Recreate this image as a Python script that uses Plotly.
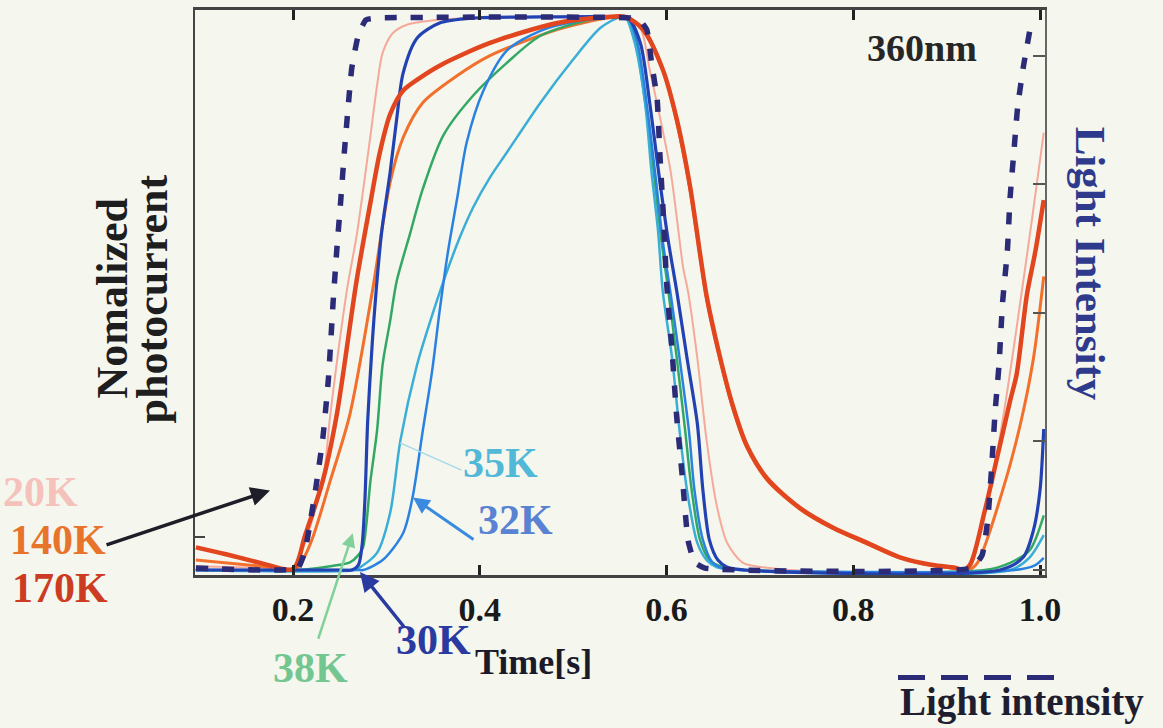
import plotly.graph_objects as go

# ---- photocurrent transients (normalized) vs time [s] ----
t_20K = [0.096, 0.165, 0.197, 0.203, 0.211, 0.232, 0.240, 0.258, 0.268, 0.283, 0.290, 0.296, 0.307, 0.322,
         0.357, 0.443, 0.536, 0.556, 0.572, 0.582, 0.604, 0.618, 0.623, 0.633, 0.643, 0.654, 0.665, 0.682,
         0.708, 0.732, 0.918, 0.930, 0.950, 0.965, 0.979, 0.991, 1.004]
i_20K = [0.007, 0.004, 0.002, 0.009, 0.041, 0.162, 0.282, 0.509, 0.603, 0.786, 0.876, 0.935, 0.971, 0.986,
         0.995, 1.0, 1.0, 1.0, 0.980, 0.905, 0.725, 0.545, 0.504, 0.383, 0.234, 0.115, 0.049, 0.013,
         0.004, 0.0, 0.0, 0.036, 0.174, 0.324, 0.486, 0.629, 0.791]

t_140K = [0.096, 0.165, 0.203, 0.218, 0.240, 0.261, 0.285, 0.304, 0.318, 0.339, 0.376, 0.411, 0.483, 0.536,
          0.556, 0.575, 0.596, 0.611, 0.625, 0.643, 0.657, 0.671, 0.686, 0.708, 0.743, 0.778, 0.815, 0.850,
          0.885, 0.909, 0.923, 0.933, 0.960, 0.979, 0.993, 1.004]
i_140K = [0.018, 0.007, 0.002, 0.045, 0.162, 0.282, 0.504, 0.701, 0.782, 0.845, 0.894, 0.930, 0.977, 0.998,
          1.0, 0.980, 0.905, 0.810, 0.690, 0.490, 0.383, 0.293, 0.222, 0.162, 0.110, 0.075, 0.047, 0.022,
          0.008, 0.003, 0.0, 0.013, 0.144, 0.264, 0.383, 0.531]

t_170K = [0.096, 0.127, 0.165, 0.200, 0.213, 0.232, 0.247, 0.268, 0.283, 0.293, 0.304, 0.318, 0.336, 0.357,
          0.411, 0.483, 0.536, 0.556, 0.575, 0.596, 0.611, 0.625, 0.643, 0.657, 0.671, 0.686, 0.708, 0.743,
          0.778, 0.815, 0.850, 0.885, 0.909, 0.917, 0.925, 0.941, 0.954, 0.968, 0.975, 0.986, 0.995, 1.004]
i_170K = [0.041, 0.029, 0.013, 0.002, 0.063, 0.162, 0.282, 0.522, 0.665, 0.755, 0.824, 0.867, 0.890, 0.912,
          0.953, 0.989, 1.0, 1.0, 0.977, 0.905, 0.815, 0.696, 0.495, 0.387, 0.297, 0.225, 0.165, 0.112,
          0.077, 0.049, 0.023, 0.009, 0.004, 0.0, 0.009, 0.108, 0.203, 0.306, 0.354, 0.498, 0.576, 0.669]

t_30K = [0.096, 0.250, 0.263, 0.270, 0.274, 0.277, 0.280, 0.285, 0.289, 0.295, 0.304, 0.311, 0.318, 0.333,
         0.357, 0.393, 0.465, 0.547, 0.559, 0.572, 0.582, 0.593, 0.602, 0.611, 0.622, 0.633, 0.639, 0.646,
         0.655, 0.665, 0.684, 0.957, 0.982, 0.993, 1.000, 1.004]
i_30K = [0.0, 0.0, 0.0, 0.009, 0.045, 0.126, 0.270, 0.414, 0.504, 0.612, 0.719, 0.815, 0.899, 0.962,
         0.989, 0.998, 1.0, 1.0, 0.998, 0.953, 0.845, 0.701, 0.594, 0.504, 0.383, 0.265, 0.144, 0.054,
         0.018, 0.005, 0.0, 0.0, 0.023, 0.072, 0.144, 0.255]

t_32K = [0.096, 0.270, 0.275, 0.296, 0.318, 0.328, 0.339, 0.349, 0.357, 0.366, 0.376, 0.386, 0.404, 0.429,
         0.465, 0.507, 0.550, 0.559, 0.569, 0.580, 0.589, 0.596, 0.604, 0.614, 0.624, 0.630, 0.639, 0.649,
         0.659, 0.679, 0.973, 0.995, 1.004]
i_32K = [0.0, 0.0, 0.0, 0.018, 0.067, 0.131, 0.252, 0.360, 0.468, 0.576, 0.674, 0.773, 0.867, 0.939,
         0.975, 0.993, 1.0, 0.998, 0.953, 0.827, 0.701, 0.594, 0.504, 0.383, 0.252, 0.144, 0.054, 0.014,
         0.004, 0.0, 0.0, 0.009, 0.022]

t_35K = [0.096, 0.266, 0.272, 0.290, 0.304, 0.315, 0.333, 0.347, 0.363, 0.379, 0.393, 0.411, 0.429, 0.465,
         0.500, 0.529, 0.550, 0.556, 0.566, 0.577, 0.584, 0.591, 0.596, 0.606, 0.614, 0.622, 0.633, 0.643,
         0.654, 0.679, 0.968, 0.989, 1.004]
i_35K = [0.0, 0.0, 0.005, 0.031, 0.103, 0.234, 0.372, 0.450, 0.531, 0.603, 0.656, 0.710, 0.755, 0.845,
         0.923, 0.980, 1.0, 1.0, 0.953, 0.845, 0.719, 0.612, 0.504, 0.383, 0.252, 0.144, 0.049, 0.018,
         0.005, 0.0, 0.0, 0.023, 0.063]

t_38K = [0.096, 0.207, 0.218, 0.240, 0.261, 0.270, 0.275, 0.283, 0.290, 0.296, 0.304, 0.311, 0.325, 0.339,
         0.361, 0.393, 0.429, 0.465, 0.518, 0.550, 0.557, 0.567, 0.578, 0.587, 0.594, 0.602, 0.611, 0.620,
         0.627, 0.636, 0.646, 0.663, 0.684, 0.941, 0.968, 0.989, 1.004]
i_38K = [0.0, 0.0, 0.002, 0.007, 0.014, 0.027, 0.041, 0.162, 0.252, 0.372, 0.450, 0.522, 0.606, 0.689,
         0.786, 0.858, 0.917, 0.966, 0.995, 1.0, 1.0, 0.953, 0.836, 0.710, 0.603, 0.504, 0.383, 0.252,
         0.144, 0.054, 0.018, 0.004, 0.0, 0.0, 0.013, 0.036, 0.099]

# ---- light intensity (arb. units, right axis) ----
t_light = [0.096, 0.205, 0.213, 0.224, 0.232, 0.238, 0.243, 0.247, 0.251, 0.255, 0.259, 0.263, 0.270, 0.278,
           0.293, 0.561, 0.572, 0.579, 0.584, 0.590, 0.593, 0.597, 0.600, 0.606, 0.611, 0.617, 0.623, 0.630,
           0.641, 0.927, 0.938, 0.944, 0.948, 0.952, 0.956, 0.960, 0.965, 0.968, 0.972, 0.976, 0.982, 0.989]
light = [0.015, 0.015, 0.155, 0.619, 1.029, 1.493, 2.089, 2.499, 2.863, 3.250, 3.598, 3.907, 4.162, 4.279,
         4.294, 4.294, 4.271, 4.201, 3.946, 3.660, 3.226, 2.708, 2.244, 1.702, 1.184, 0.720, 0.232, 0.062,
         0.015, 0.015, 0.116, 0.387, 0.774, 1.238, 1.586, 2.089, 2.476, 2.901, 3.250, 3.598, 3.907, 4.193]

x_ticks = [0.2, 0.4, 0.6, 0.8, 1.0]
x_tick_text = ["0.2", "0.4", "0.6", "0.8", "1.0"]
right_ticks = [0, 1, 2, 3, 4]

series = [
    ("20K", t_20K, i_20K, "#f5a99a", 2.0),
    ("140K", t_140K, i_140K, "#f2702c", 3.0),
    ("38K", t_38K, i_38K, "#33a864", 2.5),
    ("35K", t_35K, i_35K, "#3aaed6", 2.5),
    ("32K", t_32K, i_32K, "#2a82e0", 2.5),
    ("30K", t_30K, i_30K, "#2342b2", 3.2),
    ("170K", t_170K, i_170K, "#e2461e", 4.5),
]

SERIF = "Liberation Serif, Times New Roman, serif"
BG = "#f5f6ee"

fig = go.Figure()
for name, t, v, color, w in series:
    fig.add_trace(go.Scatter(x=t, y=v, mode="lines", name=name,
                             line=dict(color=color, width=w, shape="spline", smoothing=0.8),
                             showlegend=False))

fig.add_trace(go.Scatter(x=t_light, y=light, mode="lines", name="Light intensity", yaxis="y2",
                         line=dict(color="#2b2b78", width=5.5, dash="12px,14px", shape="spline", smoothing=0.4),
                         showlegend=False))

fig.update_layout(
    width=1163, height=728,
    margin=dict(l=195, r=118, t=7, b=153),
    paper_bgcolor=BG, plot_bgcolor=BG,
    font=dict(family=SERIF, color="#1a1a1a"),
    xaxis=dict(range=[0.09505, 1.00535], tickvals=x_ticks, ticktext=x_tick_text,
               ticks="inside", ticklen=10, tickwidth=3, tickcolor="#222",
               showline=True, linecolor="#444", linewidth=2.5, mirror="ticks",
               showgrid=False, zeroline=False,
               tickfont=dict(family=SERIF, size=34, color="#1a1a1a", weight="bold"),
               ticklabelstandoff=2),
    yaxis=dict(range=[-0.009, 1.0126], tickvals=[0.06], ticks="inside", ticklen=10, tickwidth=2,
               tickcolor="#444", showticklabels=False, showline=True, linecolor="#444",
               linewidth=2, showgrid=False, zeroline=False),
    yaxis2=dict(range=[-0.0387, 4.356], overlaying="y", side="right", tickvals=right_ticks,
                ticks="inside", ticklen=12, tickwidth=2, tickcolor="#555", showticklabels=False,
                showline=True, linecolor="#666", linewidth=1.5, showgrid=False, zeroline=False),
)

def label(text, x, y, size, color, angle=0):
    fig.add_annotation(text="<b>" + text + "</b>", x=x, y=y, xref="paper", yref="paper",
                       showarrow=False, textangle=angle, xanchor="center", yanchor="middle",
                       font=dict(family=SERIF, size=size, color=color))

def px(x):
    return (x - 195) / 850

def py(y):
    return (575 - y) / 568

label("Nomalized", px(112), py(297), 44, "#1e1e1e", -90)
label("photocurrent", px(152), py(298), 44, "#1e1e1e", -90)
label("Light Intensity", px(1090), py(262), 43, "#2e3a8c", 90)
label("360nm", px(922), py(45), 38, "#262626")
label("Time[s]", px(533), py(662), 36, "#1a1a2a")
label("Light intensity", px(1022), py(703), 39, "#1e1e30")
label("20K", px(40), py(492), 42, "#f4c2ba")
label("140K", px(58), py(540), 42, "#e8742c")
label("170K", px(60), py(588), 42, "#cc3c22")
label("38K", px(310), py(668), 42, "#74c690")
label("30K", px(433), py(640), 42, "#2a3aa0")
label("35K", px(500), py(462), 42, "#52b8d8")
label("32K", px(515), py(520), 42, "#5a82d2")

# dashed sample above the "Light intensity" caption
fig.add_shape(type="line", xref="paper", yref="paper", x0=px(898), x1=px(1060), y0=py(678), y1=py(678),
              line=dict(color="#2b2b78", width=5, dash="27px,16px"))

def arrow(x_head, y_head, ax, ay, color, width, head=2):
    fig.add_annotation(x=x_head, y=y_head, xref="x", yref="y", ax=ax, ay=ay, axref="pixel", ayref="pixel",
                       text="", showarrow=True, arrowhead=head, arrowsize=1.1, arrowwidth=width,
                       arrowcolor=color)

arrow(0.1754, 0.144, -165, 55, "#1e1e28", 3.5)
arrow(0.264, 0.0665, -35, 107, "#82d09a", 2.5)
arrow(0.2717, -0.0036, 45, 56, "#2a3aa0", 3.5)
arrow(0.3285, 0.131, 62, 43, "#3a8ae0", 3)
arrow(0.3146, 0.230, 63, 28, "#a6d9e8", 1.5, head=0)

fig.write_html("out.html")
